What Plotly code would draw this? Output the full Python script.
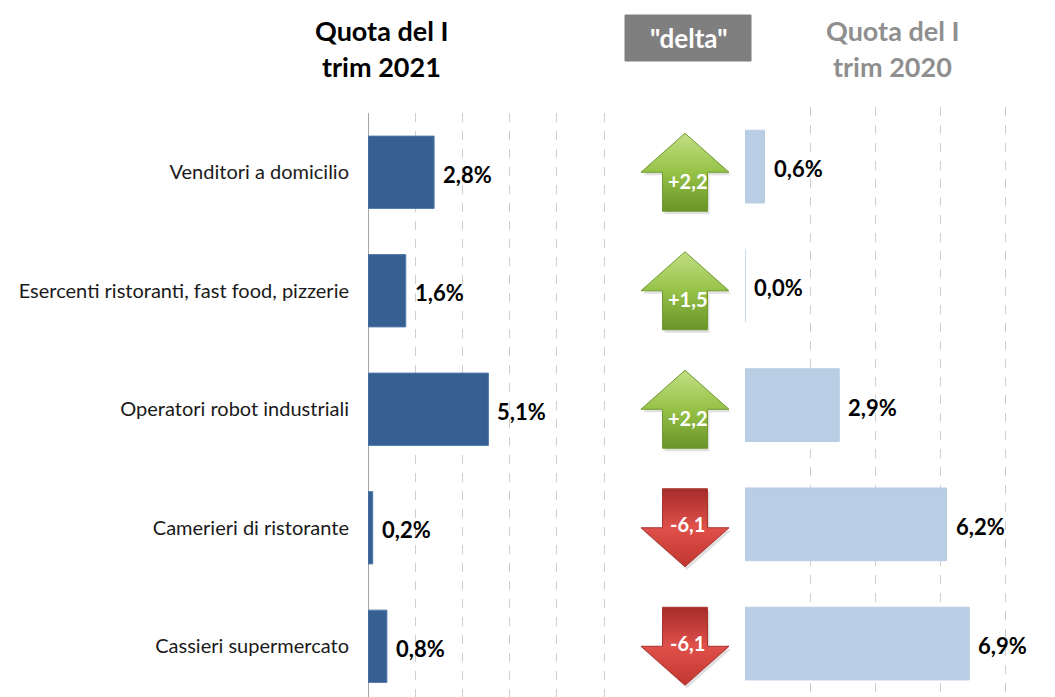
import plotly.graph_objects as go

# ---------------- data ----------------
categories = [
    "Venditori a domicilio",
    "Esercenti ristoranti, fast food, pizzerie",
    "Operatori robot industriali",
    "Camerieri di ristorante",
    "Cassieri supermercato",
]
quota_2021 = [2.8, 1.6, 5.1, 0.2, 0.8]
quota_2020 = [0.6, 0.0, 2.9, 6.2, 6.9]
delta = [2.2, 1.5, 2.2, -6.1, -6.1]
title_2021 = ["Quota del I", "trim 2021"]
title_2020 = ["Quota del I", "trim 2020"]
delta_title = '"delta"'

# ---------------- style ----------------
W, H = 1055, 697
FONT = "Lato"
DARK_BLUE = "#366092"
LIGHT_BLUE = "#b9cde5"
GRID = "#cfcfcf"

def px(x):
    return x / W

def py(y):
    return 1 - y / H

rows = list(range(len(categories)))

fig = go.Figure()

# left bars (2021)
fig.add_trace(go.Bar(
    x=quota_2021, y=rows, orientation="h", width=0.61,
    marker=dict(color=DARK_BLUE, line=dict(color="#4f77a8", width=1)),
    xaxis="x", yaxis="y", hoverinfo="skip",
))
# right bars (2020)
fig.add_trace(go.Bar(
    x=quota_2020, y=rows, orientation="h", width=0.61,
    marker=dict(color=LIGHT_BLUE, line=dict(color=LIGHT_BLUE, width=1)),
    xaxis="x2", yaxis="y2", hoverinfo="skip",
))

# arrows (middle panel), geometry in x3 units (pixels) and y units
XC = 685.0
HEAD_HALF = 44.0
SHAFT_HALF = 22.5
HALF_H = 0.329
for i, d in zip(rows, delta):
    c = i
    if d >= 0:
        xs = [XC, XC + HEAD_HALF, XC + SHAFT_HALF, XC + SHAFT_HALF, XC - SHAFT_HALF,
              XC - SHAFT_HALF, XC - HEAD_HALF, XC]
        ys = [c - HALF_H, c, c, c + HALF_H, c + HALF_H, c, c, c - HALF_H]
        cs = [[0, "#c2de84"], [0.5, "#96c247"], [1, "#6a9428"]]
        edge = "#6f9a2f"
        ly = c + 0.07
    else:
        xs = [XC - SHAFT_HALF, XC + SHAFT_HALF, XC + SHAFT_HALF, XC + HEAD_HALF, XC,
              XC - HEAD_HALF, XC - SHAFT_HALF, XC - SHAFT_HALF]
        ys = [c - HALF_H, c - HALF_H, c, c, c + HALF_H, c, c, c - HALF_H]
        cs = [[0, "#a52c2a"], [0.5, "#e0504a"], [1, "#c0362f"]]
        edge = "#a8322e"
        ly = c - 0.03
    # soft shadow
    fig.add_trace(go.Scatter(
        x=[v + 2 for v in xs], y=[v + 0.025 for v in ys], mode="lines", fill="toself",
        fillcolor="rgba(0,0,0,0.12)", line=dict(width=0), xaxis="x3", yaxis="y",
        hoverinfo="skip",
    ))
    fig.add_trace(go.Scatter(
        x=xs, y=ys, mode="lines", fill="toself",
        fillgradient=dict(type="vertical", colorscale=cs, start=c - HALF_H, stop=c + HALF_H),
        line=dict(color=edge, width=1), xaxis="x3", yaxis="y", hoverinfo="skip",
    ))
    fig.add_annotation(
        x=XC + 2, y=ly, xref="x3", yref="y", showarrow=False,
        xanchor="center", yanchor="middle",
        text=f"{d:+.1f}".replace(".", ","),
        font=dict(family=FONT, size=20, color="white", weight="bold"),
    )

# value labels
for i, v in zip(rows, quota_2021):
    fig.add_annotation(
        x=v, y=i, xref="x", yref="y", showarrow=False, xanchor="left", yanchor="middle",
        xshift=7, yshift=-2, text=f"{v:.1f}%".replace(".", ","),
        font=dict(family=FONT, size=22, color="black", weight="bold"),
    )
for i, v in zip(rows, quota_2020):
    fig.add_annotation(
        x=v, y=i, xref="x2", yref="y2", showarrow=False, xanchor="left", yanchor="middle",
        xshift=7, yshift=-2, text=f"{v:.1f}%".replace(".", ","),
        font=dict(family=FONT, size=22, color="black", weight="bold"),
    )

# titles
for txt, yy in zip(title_2021, [30, 66]):
    fig.add_annotation(x=px(381), y=py(yy), xref="paper", yref="paper", showarrow=False,
                       xanchor="center", yanchor="middle",
                       text=txt, font=dict(family=FONT, size=27, color="black", weight="bold"))
for txt, yy in zip(title_2020, [31, 66]):
    fig.add_annotation(x=px(892), y=py(yy), xref="paper", yref="paper", showarrow=False,
                       xanchor="center", yanchor="middle",
                       text=txt, font=dict(family=FONT, size=27, color="#8f8f8f", weight="bold"))

fig.add_shape(type="rect", xref="paper", yref="paper",
              x0=px(625), x1=px(751), y0=py(61), y1=py(15),
              fillcolor="#7f7f7f", line=dict(color="#7f7f7f", width=1), layer="below")
fig.add_annotation(x=px(688), y=py(38), xref="paper", yref="paper", showarrow=False,
                   xanchor="center", yanchor="middle",
                   text=delta_title, font=dict(family=FONT, size=26, color="white", weight="bold"))

fig.update_layout(
    width=W, height=H,
    margin=dict(l=0, r=0, t=0, b=0),
    paper_bgcolor="white", plot_bgcolor="rgba(0,0,0,0)",
    showlegend=False,
    xaxis=dict(domain=[px(368), px(625)], range=[0, (625 - 368) / 23.6], dtick=2,
               showgrid=True, gridcolor=GRID, griddash="dash", gridwidth=1,
               zeroline=True, zerolinecolor="#a6a6a6", zerolinewidth=1,
               showticklabels=False, anchor="y", fixedrange=True),
    yaxis=dict(domain=[0, py(113)], range=[4.428, -0.5], tickvals=rows, ticktext=categories,
               ticks="", showgrid=False, zeroline=False, anchor="x",
               tickfont=dict(family=FONT, size=20, color="#1a1a1a"),
               ticklabelstandoff=18, fixedrange=True),
    xaxis2=dict(domain=[px(745), 1], range=[0, (W - 745) / 32.5], dtick=2,
                showgrid=True, gridcolor=GRID, griddash="dash", gridwidth=1,
                zeroline=False, showticklabels=False, anchor="y2", fixedrange=True),
    yaxis2=dict(domain=[0, py(107)], range=[4.448, -0.5], showticklabels=False,
                showgrid=False, zeroline=False, anchor="x2", fixedrange=True),
    xaxis3=dict(domain=[px(625), px(745)], range=[625, 745], visible=False,
                anchor="y", fixedrange=True),
)

fig.write_html(
    "out.html",
    config={"displayModeBar": False},
    post_script="document.body.style.margin='0';document.body.style.overflow='hidden';",
)
